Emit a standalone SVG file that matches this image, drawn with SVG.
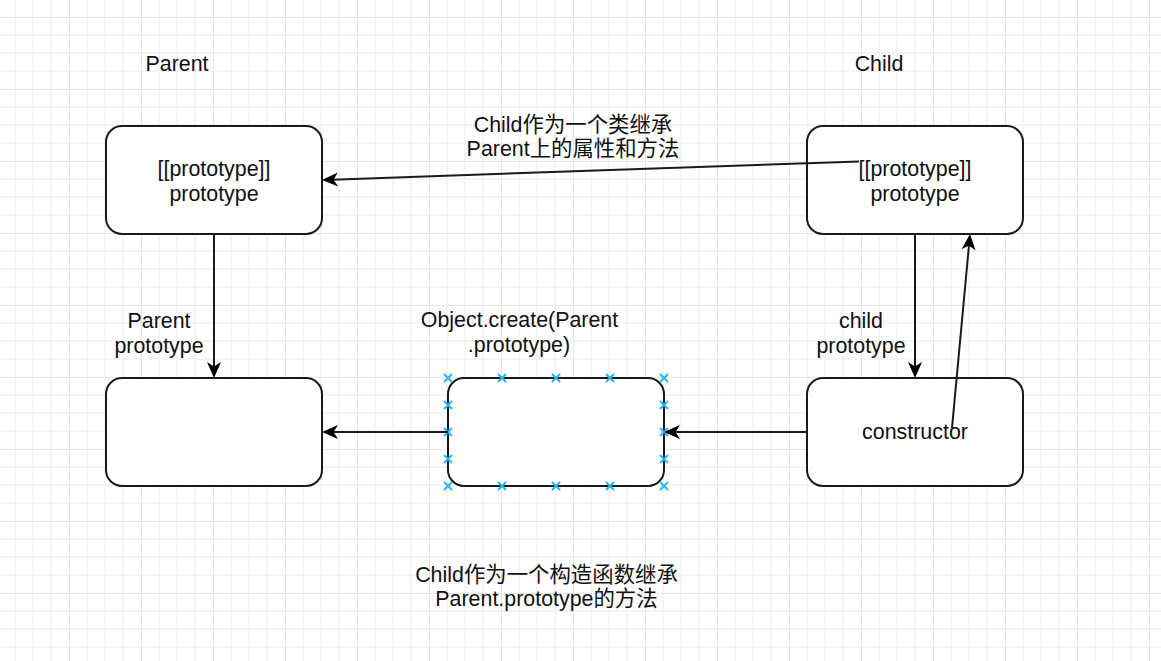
<svg xmlns="http://www.w3.org/2000/svg" width="1161" height="661" viewBox="0 0 1161 661">
  <style>
    .box { fill: #ffffff; stroke: #1a1a1a; stroke-width: 2; }
    .edge { fill: none; stroke: #1a1a1a; stroke-width: 2; }
    .t { font-family: "Liberation Sans", Arial, "Noto Sans CJK SC", sans-serif; font-size: 21.4px; fill: #111111; text-anchor: middle; }
    .x { stroke: #29b6f2; stroke-width: 2; fill: none; }
  </style>
  <defs>
    <pattern id="grid" patternUnits="userSpaceOnUse" x="69" y="17" width="72" height="72">
      <path d="M18,0 V72 M36,0 V72 M54,0 V72 M0,18 H72 M0,36 H72 M0,54 H72" stroke="#f2f2f2" stroke-width="1.5" fill="none"/>
      <path d="M0,0 V72 M0,0 H72" stroke="#dddddd" stroke-width="1.6" fill="none"/>
    </pattern>
    <marker id="arrow" markerUnits="userSpaceOnUse" viewBox="-18 -9 20 18" refX="-10" refY="0" markerWidth="20" markerHeight="18" orient="auto">
      <path d="M0,0 L-16,-7 L-11.5,0 L-16,7 Z" fill="#000000"/>
    </marker>
    <path id="xm" d="M-4,-4 L4,4 M-4,4 L4,-4" class="x"/>
  </defs>

  <rect x="0" y="0" width="1161" height="661" fill="#ffffff"/>
  <rect x="0" y="0" width="1161" height="661" fill="url(#grid)"/>

  <g id="title-parent"><text class="t" x="177" y="71">Parent</text></g>
  <g id="title-child"><text class="t" x="879" y="71">Child</text></g>

  <g id="parent-proto">
    <rect class="box" x="106" y="126" width="216" height="108" rx="16"/>
    <text class="t" x="214" y="176">[[prototype]]</text>
    <text class="t" x="214" y="200.5">prototype</text>
  </g>

  <g id="child-proto">
    <rect class="box" x="807" y="126" width="216" height="108" rx="16"/>
    <text class="t" x="915" y="176">[[prototype]]</text>
    <text class="t" x="915" y="200.5">prototype</text>
  </g>

  <g id="parent-prototype-obj">
    <rect class="box" x="106" y="378" width="216" height="108" rx="16"/>
  </g>

  <g id="object-create">
    <rect class="box" x="448" y="378" width="216" height="108" rx="16"/>
    <use href="#xm" x="448" y="378"/><use href="#xm" x="502" y="378"/><use href="#xm" x="556" y="378"/><use href="#xm" x="610" y="378"/><use href="#xm" x="664" y="378"/>
    <use href="#xm" x="448" y="486"/><use href="#xm" x="502" y="486"/><use href="#xm" x="556" y="486"/><use href="#xm" x="610" y="486"/><use href="#xm" x="664" y="486"/>
    <use href="#xm" x="448" y="405"/><use href="#xm" x="448" y="432"/><use href="#xm" x="448" y="459"/>
    <use href="#xm" x="664" y="405"/><use href="#xm" x="664" y="432"/><use href="#xm" x="664" y="459"/>
  </g>

  <g id="constructor">
    <rect class="box" x="807" y="378" width="216" height="108" rx="16"/>
    <text class="t" x="915" y="439">constructor</text>
  </g>

  <g id="connectors">
    <path class="edge" d="M214,234 V368" marker-end="url(#arrow)"/>
    <path class="edge" d="M859,161.5 L332,179.7" marker-end="url(#arrow)"/>
    <path class="edge" d="M915,234 V368" marker-end="url(#arrow)"/>
    <path class="edge" d="M807,432 H674" marker-end="url(#arrow)"/>
    <path class="edge" d="M448,432 H332" marker-end="url(#arrow)"/>
    <path class="edge" d="M952,428 L969.1,244" marker-end="url(#arrow)"/>
  </g>

  <g id="labels">
    <text class="t" x="573" y="131.7">Child作为一个类继承</text>
    <text class="t" x="573" y="156">Parent上的属性和方法</text>
    <text class="t" x="159" y="327.7">Parent</text>
    <text class="t" x="159" y="352.5">prototype</text>
    <text class="t" x="519.5" y="327.3">Object.create(Parent</text>
    <text class="t" x="519" y="352">.prototype)</text>
    <text class="t" x="861" y="328.3">child</text>
    <text class="t" x="861" y="353">prototype</text>
    <text class="t" x="546.5" y="581.7">Child作为一个构造函数继承</text>
    <text class="t" x="546.5" y="606">Parent.prototype的方法</text>
  </g>
</svg>
